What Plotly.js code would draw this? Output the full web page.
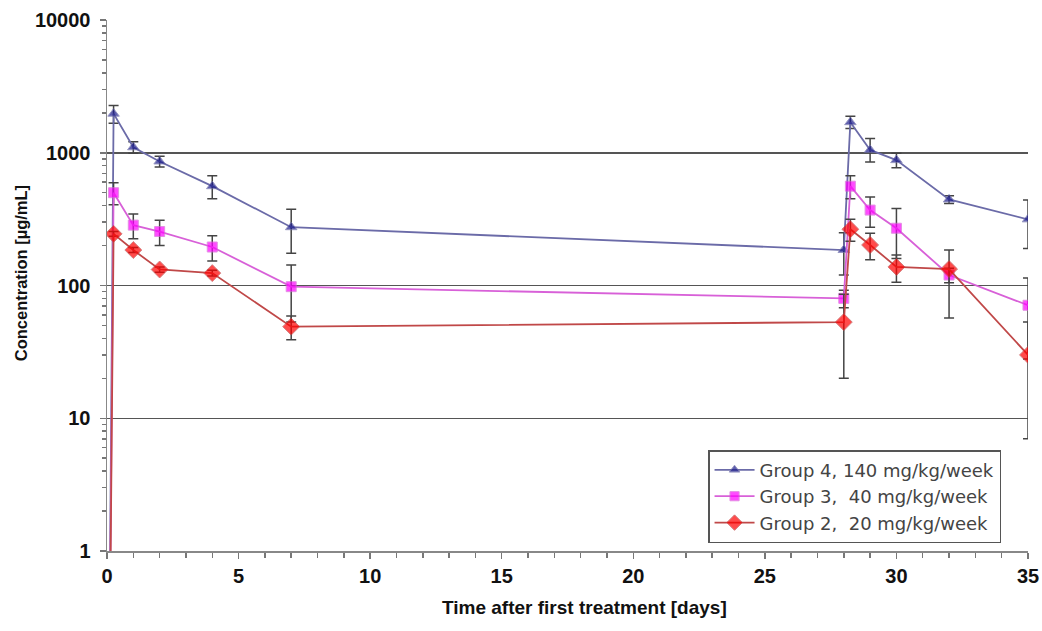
<!DOCTYPE html>
<html>
<head>
<meta charset="utf-8">
<script src="https://cdn.plot.ly/plotly-3.0.1.min.js"></script>
<style>html,body{margin:0;padding:0;background:#fff;}#chart{width:1042px;height:631px;}</style>
</head>
<body>
<div id="chart"></div>
<script>
// Time points (days after first treatment); first point is the pre-dose value
const timeDays = [0, 0.25, 1, 2, 4, 7, 28, 28.25, 29, 30, 32, 35];

// Group 4, 140 mg/kg/week
const group4 = [0.001, 1970, 1100, 860, 560, 275, 185, 1700, 1050, 880, 445, 315];
const group4ErrUp = [0, 300, 110, 80, 110, 100, 65, 180, 230, 110, 30, 125];
const group4ErrDown = [0, 300, 110, 80, 110, 100, 65, 180, 200, 110, 30, 125];

// Group 3, 40 mg/kg/week
const group3 = [0.001, 500, 285, 255, 195, 98, 80, 560, 370, 270, 120, 71];
const group3ErrUp = [0, 95, 60, 55, 42, 45, 12, 110, 95, 110, 15, 43];
const group3ErrDown = [0, 95, 60, 55, 42, 45, 12, 110, 95, 110, 15, 43];

// Group 2, 20 mg/kg/week
const group2 = [0.001, 245, 185, 132, 124, 49, 53, 265, 202, 138, 133, 30];
const group2ErrUp = [0, 10, 8, 6, 6, 10, 33, 50, 46, 32, 52, 23];
const group2ErrDown = [0, 10, 8, 6, 6, 10, 33, 50, 46, 32, 76, 23];

const seriesNames = ["Group 4, 140 mg/kg/week", "Group 3,  40 mg/kg/week", "Group 2,  20 mg/kg/week"];
const yTickVals = [1, 10, 100, 1000, 10000];
const yTickText = ["1", "10", "100", "1000", "10000"];
const xTickVals = [0, 5, 10, 15, 20, 25, 30, 35];
const xTitle = 'Time after first treatment [days]';
const yTitle = 'Concentration [µg/mL]';

const sizes = (s) => timeDays.map((t, i) => i === 0 ? 0 : s);

function errBar(up, down) {
  return {type: 'data', symmetric: false, array: up, arrayminus: down,
          color: '#444444', thickness: 1.5, width: 5};
}

const SANS = 'Liberation Sans, Arial, sans-serif';
const WIDE = 'DejaVu Sans, Verdana, sans-serif';

const traces = [
  {x: timeDays, y: group4, name: seriesNames[0], type: 'scatter', mode: 'lines+markers',
   line: {color: '#6b6ba8', width: 1.8},
   marker: {symbol: 'triangle-up', color: '#1c1c8c', size: sizes(10)},
   error_y: errBar(group4ErrUp, group4ErrDown)},
  {x: timeDays, y: group3, name: seriesNames[1], type: 'scatter', mode: 'lines+markers',
   line: {color: '#d860d8', width: 1.8},
   marker: {symbol: 'square', color: '#ff00ff', size: sizes(10)},
   error_y: errBar(group3ErrUp, group3ErrDown)},
  {x: timeDays, y: group2, name: seriesNames[2], type: 'scatter', mode: 'lines+markers',
   line: {color: '#c04848', width: 1.8},
   marker: {symbol: 'diamond', color: '#ff0000', size: sizes(13)},
   error_y: errBar(group2ErrUp, group2ErrDown)}
];

const tickFont = {family: SANS, size: 20, color: '#111', weight: 'bold'};

const layout = {
  width: 1042, height: 631,
  margin: {l: 107, r: 14, t: 20, b: 80},
  paper_bgcolor: '#fff', plot_bgcolor: '#fff',
  showlegend: true,
  legend: {x: 0.6526, y: 0.19, xanchor: 'left', yanchor: 'top',
           bgcolor: '#fff', bordercolor: '#555', borderwidth: 1.5,
           font: {family: WIDE, size: 18, color: '#444'},
           tracegroupgap: 0, itemwidth: 40},
  xaxis: {range: [0, 35], tickvals: xTickVals, ticktext: xTickVals.map(String),
          ticks: 'outside', ticklen: 6, tickcolor: '#777', tickwidth: 1.5,
          showline: true, linecolor: '#888', linewidth: 1.5, showgrid: false, zeroline: false,
          tickfont: tickFont,
          minor: {dtick: 1, ticks: 'outside', ticklen: 5, tickcolor: '#777', showgrid: false}},
  yaxis: {type: 'log', range: [0, 4], tickvals: yTickVals, ticktext: yTickText,
          ticks: 'outside', ticklen: 6, tickcolor: '#777', tickwidth: 1.5,
          showline: true, linecolor: '#888', linewidth: 1.5, ticklabelstandoff: 5,
          showgrid: true, gridcolor: '#555', gridwidth: 1.5, zeroline: false,
          tickfont: tickFont,
          minor: {dtick: 'D1', ticks: 'outside', ticklen: 4, tickcolor: '#777', showgrid: false}},
  annotations: [
    {text: xTitle, xref: 'paper', yref: 'paper', x: 0.518, y: 0, yshift: -56,
     xanchor: 'center', yanchor: 'middle', showarrow: false,
     font: {family: SANS, size: 19, color: '#111', weight: 'bold'}},
    {text: yTitle, xref: 'paper', yref: 'paper', x: 0, xshift: -86, y: 0.523,
     xanchor: 'center', yanchor: 'middle', showarrow: false, textangle: -90,
     font: {family: SANS, size: 16.5, color: '#111', weight: 'bold'}}
  ]
};

Plotly.newPlot('chart', traces, layout, {displayModeBar: false, staticPlot: true});
</script>
</body>
</html>
